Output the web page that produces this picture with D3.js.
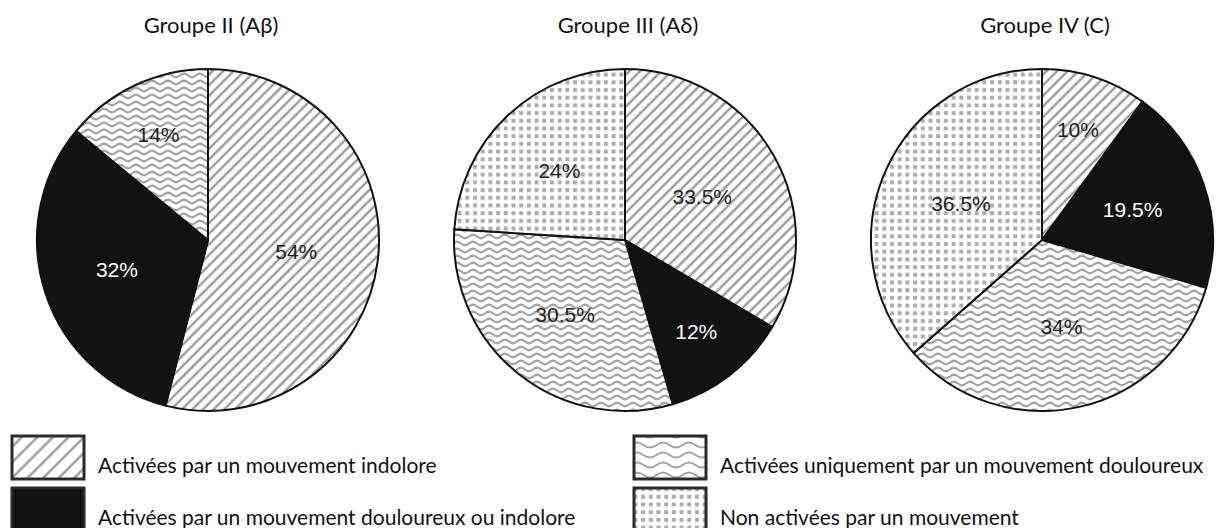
<!DOCTYPE html>
<html>
<head>
<meta charset="utf-8">
<script src="https://cdn.jsdelivr.net/npm/d3@7"></script>
<style>
  body { margin: 0; background: #fff; }
  svg { display: block; }
</style>
</head>
<body>
<svg id="chart" width="1220" height="528"></svg>
<script>
// data
const groups = ["Groupe II (A\u03b2)", "Groupe III (A\u03b4)", "Groupe IV (C)"];
const categories = [
  "Activées par un mouvement indolore",
  "Activées par un mouvement douloureux ou indolore",
  "Activées uniquement par un mouvement douloureux",
  "Non activées par un mouvement"
];
const indolore = [54, 33.5, 10];
const douloureuxOuIndolore = [32, 12, 19.5];
const douloureuxSeul = [14, 30.5, 34];
const nonActivees = [0, 24, 36.5];
const labels = [
  ["54%", "32%", "14%", ""],
  ["33.5%", "12%", "30.5%", "24%"],
  ["10%", "19.5%", "34%", "36.5%"]
];

const svg = d3.select("#chart");
const defs = svg.append("defs");

// hatch pattern
const hatch = defs.append("pattern")
  .attr("id", "hatch").attr("patternUnits", "userSpaceOnUse")
  .attr("width", 7.5).attr("height", 7.5)
  .attr("patternTransform", "rotate(45)");
hatch.append("rect").attr("width", 7.5).attr("height", 7.5).attr("fill", "#fff");
hatch.append("line").attr("x1", 3.75).attr("x2", 3.75).attr("y1", 0).attr("y2", 7.5)
  .attr("stroke", "#9a9a9a").attr("stroke-width", 2.4);

// hatch for legend (wider)
const hatchL = defs.append("pattern")
  .attr("id", "hatchL").attr("patternUnits", "userSpaceOnUse")
  .attr("width", 11).attr("height", 11)
  .attr("patternTransform", "rotate(45)");
hatchL.append("rect").attr("width", 11).attr("height", 11).attr("fill", "#fff");
hatchL.append("line").attr("x1", 5.5).attr("x2", 5.5).attr("y1", 0).attr("y2", 11)
  .attr("stroke", "#9a9a9a").attr("stroke-width", 2.4);

// wave pattern
const wave = defs.append("pattern")
  .attr("id", "wave").attr("patternUnits", "userSpaceOnUse")
  .attr("width", 16).attr("height", 7);
wave.append("rect").attr("width", 16).attr("height", 7).attr("fill", "#fff");
wave.append("path").attr("d", "M-4,3.5 Q0,7 4,3.5 T12,3.5 T20,3.5")
  .attr("fill", "none").attr("stroke", "#a5a5a5").attr("stroke-width", 2.2);

// big wave for legend
const waveL = defs.append("pattern")
  .attr("id", "waveL").attr("patternUnits", "userSpaceOnUse")
  .attr("width", 26).attr("height", 10);
waveL.append("rect").attr("width", 26).attr("height", 10).attr("fill", "#fff");
waveL.append("path").attr("d", "M-6.5,5 Q0,10 6.5,5 T19.5,5 T32.5,5")
  .attr("fill", "none").attr("stroke", "#a5a5a5").attr("stroke-width", 2);

// dots pattern
const dots = defs.append("pattern")
  .attr("id", "dots").attr("patternUnits", "userSpaceOnUse")
  .attr("width", 7.7).attr("height", 7.7);
dots.append("rect").attr("width", 7.7).attr("height", 7.7).attr("fill", "#fff");
dots.append("rect").attr("x", 2).attr("y", 2).attr("width", 4).attr("height", 4).attr("fill", "#ababab");

const fills = ["url(#hatch)", "#121212", "url(#wave)", "url(#dots)"];
const legendFills = ["url(#hatchL)", "#121212", "url(#waveL)", "url(#dots)"];
const textColors = ["#222", "#fff", "#222", "#222"];

const centers = d3.scalePoint().domain(groups).range([208, 1042]);
const radius = 171;
const cy = 240;

const pie = d3.pie().sort(null).value(d => d.v);
const arc = d3.arc().innerRadius(0).outerRadius(radius);

// smaller slices get their label further out
const labelRadius = v => radius * (v < 15 ? 0.68 : v < 33 ? 0.56 : 0.52);

groups.forEach((g, gi) => {
  const vals = [indolore[gi], douloureuxOuIndolore[gi], douloureuxSeul[gi], nonActivees[gi]]
    .map((v, i) => ({ v: v, i: i }));
  const arcs = pie(vals).filter(d => d.data.v > 0);
  const cx = centers(g);
  const gr = svg.append("g").attr("transform", `translate(${cx},${cy})`);

  gr.selectAll("path.slice").data(arcs).enter().append("path")
    .attr("class", "slice")
    .attr("d", arc)
    .attr("fill", d => fills[d.data.i])
    .attr("stroke", "#111")
    .attr("stroke-width", 2)
    .attr("stroke-linejoin", "round");

  gr.selectAll("text.lbl").data(arcs).enter().append("text")
    .attr("class", "lbl")
    .attr("transform", d => {
      const a = (d.startAngle + d.endAngle) / 2;
      const rr = labelRadius(d.data.v);
      return `translate(${Math.sin(a) * rr},${-Math.cos(a) * rr})`;
    })
    .attr("text-anchor", "middle")
    .attr("dy", "0.36em")
    .attr("font-family", "'Liberation Sans', Arial, sans-serif")
    .attr("font-size", 21)
    .attr("fill", d => textColors[d.data.i])
    .text(d => labels[gi][d.data.i]);

  svg.append("text")
    .attr("x", cx + 3).attr("y", 33)
    .attr("text-anchor", "middle")
    .attr("font-family", "Lato, 'Open Sans', sans-serif")
    .attr("font-size", 22)
    .attr("fill", "#111")
    .text(g);
});

// legend
const legend = svg.append("g");
const legX = [12, 634];
const legY = [436, 488];
categories.forEach((c, i) => {
  const col = i === 0 || i === 1 ? 0 : 1;
  const row = i === 0 || i === 2 ? 0 : 1;
  const x = legX[col], y = legY[row];
  legend.append("rect")
    .attr("x", x).attr("y", y).attr("width", 72).attr("height", 43)
    .attr("fill", legendFills[i])
    .attr("stroke", "#2a2a2a").attr("stroke-width", 3);
  legend.append("text")
    .attr("x", x + 86).attr("y", y + 37)
    .attr("font-family", "Lato, 'Open Sans', sans-serif")
    .attr("font-size", 21)
    .attr("fill", "#111")
    .text(c);
});
</script>
</body>
</html>
